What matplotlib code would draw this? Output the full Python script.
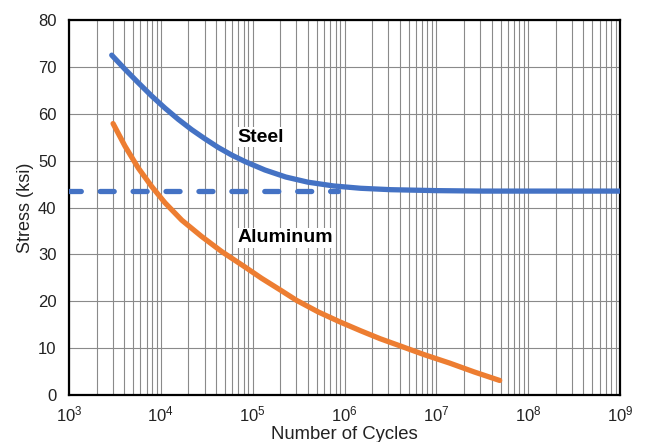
import matplotlib
matplotlib.use("Agg")
import matplotlib.pyplot as plt
from matplotlib.ticker import LogLocator, NullFormatter

plt.rcParams['font.family'] = ['Liberation Sans', 'DejaVu Sans']
plt.rcParams['mathtext.default'] = 'regular'
plt.rcParams['lines.scale_dashes'] = False

# Data
steel_cycles = [2.92e3, 4.07e3, 5.69e3, 7.94e3, 1.11e4, 1.55e4, 2.17e4, 3.0e4,
                4.23e4, 5.9e4, 8.26e4, 1.36e5, 2.3e5, 4.0e5, 7.6e5, 1.5e6,
                3.2e6, 1.0e7, 3.2e7, 1.0e9]
steel_stress = [72.5, 69.5, 66.6, 63.8, 61.2, 58.8, 56.6, 54.7,
                52.8, 51.2, 49.8, 48.0, 46.5, 45.4, 44.6, 44.1,
                43.8, 43.6, 43.5, 43.5]

alum_cycles = [3.02e3, 4.07e3, 5.69e3, 7.94e3, 1.11e4, 1.69e4, 2.79e4, 4.6e4,
               8.26e4, 1.25e5, 2.0e5, 3.0e5, 5.2e5, 8.9e5, 1.5e6, 2.45e6,
               4.0e6, 7.4e6, 1.4e7, 2.6e7, 4.9e7]
alum_stress = [57.9, 53.1, 48.4, 44.5, 41.0, 37.3, 33.8, 30.6,
               27.3, 24.9, 22.4, 20.2, 17.7, 15.6, 13.7, 12.0,
               10.5, 8.6, 6.8, 4.9, 3.1]

endurance_cycles = [1.0e3, 8.5e5]
endurance_stress = [43.5, 43.5]

yticks = [0, 10, 20, 30, 40, 50, 60, 70, 80]
xlabel = "Number of Cycles"
ylabel = "Stress (ksi)"
labels = ["Steel", "Aluminum"]
label_pos = [(6.8e4, 55.0), (6.8e4, 33.5)]

blue = '#4472c4'
orange = '#ed7d31'

fig = plt.figure(figsize=(6.45, 4.42), dpi=100)
ax = fig.add_axes([69/645, 1 - 395/442, (620 - 69)/645, (395 - 20)/442])

ax.set_xscale('log')
ax.set_xlim(1e3, 1e9)
ax.set_ylim(0, 80)
ax.set_yticks(yticks)
ax.xaxis.set_major_locator(LogLocator(base=10, numticks=20))
ax.xaxis.set_minor_locator(LogLocator(base=10, subs=range(2, 10), numticks=100))
ax.xaxis.set_minor_formatter(NullFormatter())

ax.grid(True, which='major', axis='both', color='#8a8a8a', linewidth=0.8)
ax.grid(True, which='minor', axis='x', color='#8a8a8a', linewidth=0.8)
ax.set_axisbelow(True)

ax.plot(alum_cycles, alum_stress, color=orange, linewidth=3.8,
        solid_capstyle='round', solid_joinstyle='round', zorder=3)
ax.plot(steel_cycles, steel_stress, color=blue, linewidth=3.8,
        solid_capstyle='round', solid_joinstyle='round', zorder=3)
ax.plot(endurance_cycles, endurance_stress, color=blue, linewidth=3.8,
        dash_capstyle='round', linestyle=(1.6, (10.1, 13.6)), zorder=3)

for text, (x, y) in zip(labels, label_pos):
    ax.text(x, y, text, fontsize=14, fontweight='bold', ha='left', va='center',
            color='black', zorder=4,
            bbox=dict(facecolor='white', edgecolor='none', pad=1.0))

for s in ax.spines.values():
    s.set_color('black')
    s.set_linewidth(1.6)

ax.tick_params(axis='both', which='both', length=0, labelsize=12, colors='#222222')
ax.tick_params(axis='y', pad=9)
ax.tick_params(axis='x', pad=7)

ax.set_xlabel(xlabel, fontsize=13.3, color='#222222', labelpad=1)
ax.set_ylabel(ylabel, fontsize=13, color='#222222', labelpad=3)

fig.savefig('out.png', dpi=100)
